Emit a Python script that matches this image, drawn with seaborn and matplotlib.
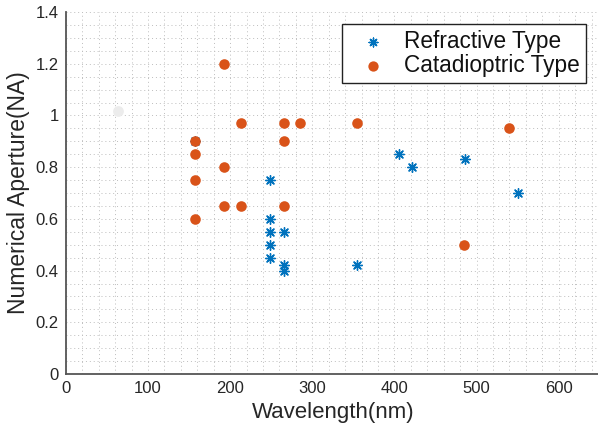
import matplotlib
matplotlib.use("Agg")
import matplotlib.pyplot as plt
import seaborn as sns
import pandas as pd
from matplotlib.ticker import MultipleLocator
from matplotlib.markers import MarkerStyle

# ---- data ----
refr_wavelength = [248, 248, 248, 248, 248, 266, 266, 266, 355, 405, 421, 486, 550, 157]
refr_na         = [0.75, 0.60, 0.55, 0.50, 0.45, 0.55, 0.42, 0.40, 0.42, 0.85, 0.80, 0.83, 0.70, 0.90]

cata_wavelength = [157, 157, 157, 157, 193, 193, 193, 213, 213, 266, 266, 266, 285, 355, 485, 540]
cata_na         = [0.90, 0.85, 0.75, 0.60, 1.20, 0.80, 0.65, 0.97, 0.65, 0.97, 0.90, 0.65, 0.97, 0.97, 0.50, 0.95]

ghost_wavelength = [63]
ghost_na = [1.017]

series_names = ["Refractive Type", "Catadioptric Type"]

refr = pd.DataFrame({"Wavelength": refr_wavelength, "NA": refr_na})
cata = pd.DataFrame({"Wavelength": cata_wavelength, "NA": cata_na})
ghost = pd.DataFrame({"Wavelength": ghost_wavelength, "NA": ghost_na})

sns.set_style("white")
plt.rcParams["font.family"] = ["Liberation Sans", "DejaVu Sans"]

fig = plt.figure(figsize=(5.98, 4.28), dpi=100)
ax = fig.add_axes([0.110, 0.126, 0.893, 0.846])

blue = "#0072BD"
orange = "#D95319"

sns.scatterplot(data=ghost, x="Wavelength", y="NA", ax=ax, color="#ececec",
                marker="o", s=60, linewidth=0, zorder=2, legend=False)
sns.scatterplot(data=refr, x="Wavelength", y="NA", ax=ax, color=blue,
                marker=MarkerStyle((8, 2, 0)), s=48, linewidth=1.0, zorder=2, legend=False)
sns.scatterplot(data=cata, x="Wavelength", y="NA", ax=ax, color=orange,
                marker="o", s=58, linewidth=0, zorder=3, legend=False)

ax.set_xlim(0, 650)
ax.set_ylim(0, 1.4)
ax.xaxis.set_major_locator(MultipleLocator(100))
ax.xaxis.set_minor_locator(MultipleLocator(20))
ax.yaxis.set_major_locator(MultipleLocator(0.2))
ax.yaxis.set_minor_locator(MultipleLocator(0.05))
ax.set_xticks([0, 100, 200, 300, 400, 500, 600])
ax.set_xticklabels(["0", "100", "200", "300", "400", "500", "600"])
ax.set_yticks([0, 0.2, 0.4, 0.6, 0.8, 1.0, 1.2, 1.4])
ax.set_yticklabels(["0", "0.2", "0.4", "0.6", "0.8", "1", "1.2", "1.4"])

ax.grid(True, which="both", linestyle=(0, (1, 3)), color="#bdbdbd", linewidth=0.7)
ax.set_axisbelow(True)

for side in ["top", "right"]:
    ax.spines[side].set_visible(False)
for side in ["left", "bottom"]:
    ax.spines[side].set_color("#555555")
    ax.spines[side].set_linewidth(1.3)

ax.tick_params(which="major", direction="in", length=4, width=1, color="#555555",
               labelsize=12, labelcolor="#262626", pad=5)
ax.tick_params(which="minor", length=0)

ax.set_xlabel("Wavelength(nm)", fontsize=16, color="#262626", labelpad=4)
ax.set_ylabel("Numerical Aperture(NA)", fontsize=16.5, color="#262626", labelpad=4)

h1 = ax.scatter([], [], marker=MarkerStyle((8, 2, 0)), s=40, color=blue, linewidth=1.0)
h2 = ax.scatter([], [], marker="o", s=55, color=orange, linewidth=0)
leg = ax.legend([h1, h2], series_names, loc="upper right", bbox_to_anchor=(0.974, 0.967),
                borderaxespad=0, fontsize=16.3, frameon=True, fancybox=False, framealpha=1,
                edgecolor="#222222", handletextpad=0.25, borderpad=0.28,
                labelspacing=0.02, handlelength=2.2)
leg.get_frame().set_linewidth(1.0)
for t in leg.get_texts():
    t.set_color("#111111")

fig.savefig("out.png", dpi=100)
